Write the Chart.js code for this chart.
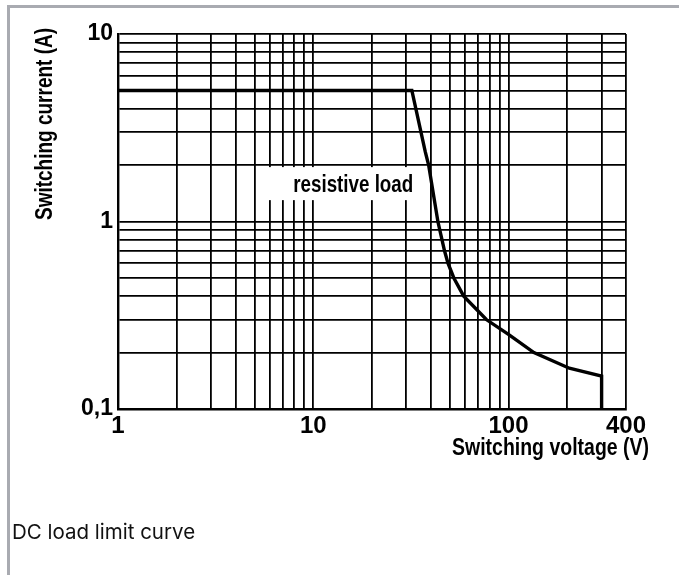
<!DOCTYPE html>
<html>
<head>
<meta charset="utf-8">
<script src="https://cdn.jsdelivr.net/npm/chart.js@4/dist/chart.umd.min.js"></script>
<style>
    html, body { margin: 0; padding: 0; background: #fff; }
    #page { position: relative; width: 679px; height: 575px; overflow: hidden; }
    #frame {
        position: absolute; left: 7px; top: 5px; width: 680px; height: 600px;
        border-top: 3px solid #a9abb1; border-left: 3px solid #a9abb1;
    }
    #wrap { position: absolute; left: 0; top: 0; width: 679px; height: 575px; }
    #caption {
        position: absolute; left: 12px; top: 519px;
        font-family: Inter, Roboto, sans-serif; font-size: 20.5px; color: #111;
    }
</style>
</head>
<body>
<div id="page">
    <div id="frame"></div>
    <div id="wrap"><canvas id="limitChart"></canvas></div>
    <div id="caption">DC load limit curve</div>
</div>
<script>
// ===== Data =====
const voltage = [1, 32, 37.5, 39, 43.5, 47, 49, 52.5, 59, 77, 100, 135, 205, 300, 300];
const current = [5, 5, 2.35, 2, 1, 0.7, 0.6, 0.5, 0.4, 0.3, 0.25, 0.2, 0.165, 0.15, 0.1];

// ===== Grid / ticks =====
const xGrid = [1, 2, 3, 4, 5, 6, 7, 8, 9, 10, 20, 30, 40, 50, 60, 70, 80, 90, 100, 200, 300, 400];
const yGrid = [0.1, 0.2, 0.3, 0.4, 0.5, 0.6, 0.7, 0.8, 0.9, 1, 2, 3, 4, 5, 6, 7, 8, 9, 10];
const xLabels = { 1: "1", 10: "10", 100: "100", 400: "400" };
const yLabels = { 0.1: "0,1", 1: "1", 10: "10" };

const xTitle = "Switching voltage (V)";
const yTitle = "Switching current (A)";
const loadLabel = "resistive load";

const FONT = "'Liberation Sans', Arial, sans-serif";

// draw text squeezed to a given width (the datasheet uses a narrow face)
function narrowText(ctx, text, x, y, width) {
    const w = ctx.measureText(text).width;
    ctx.save();
    ctx.translate(x, y);
    ctx.scale(width / w, 1);
    ctx.fillText(text, 0, 0);
    ctx.restore();
}

const textPlugin = {
    id: "sheetText",
    beforeDatasetsDraw(chart) {
        const ctx = chart.ctx;
        const x = chart.scales.x, y = chart.scales.y;
        ctx.save();
        // white patch behind "resistive load"
        const bx0 = x.getPixelForValue(5.6), bx1 = x.getPixelForValue(35);
        const by0 = y.getPixelForValue(1.95), by1 = y.getPixelForValue(1.3);
        ctx.fillStyle = "#fff";
        ctx.fillRect(bx0, by0, bx1 - bx0, by1 - by0);
        ctx.fillStyle = "#000";
        ctx.font = "bold 23px " + FONT;
        ctx.textAlign = "left";
        ctx.textBaseline = "middle";
        narrowText(ctx, loadLabel, x.getPixelForValue(7.9), y.getPixelForValue(1.55), 120);
        ctx.restore();
    },
    afterDraw(chart) {
        const ctx = chart.ctx;
        const a = chart.chartArea;
        ctx.save();
        ctx.fillStyle = "#000";
        ctx.font = "bold 23px " + FONT;
        ctx.textBaseline = "middle";
        ctx.textAlign = "left";
        narrowText(ctx, xTitle, a.right - 174, a.bottom + 40, 197);
        ctx.translate(a.left - 72, a.top - 6);
        ctx.rotate(-Math.PI / 2);
        ctx.textAlign = "left";
        narrowText(ctx, yTitle, -192, 0, 192);
        ctx.restore();
    }
};

new Chart(document.getElementById("limitChart"), {
    type: "line",
    data: {
        datasets: [{
            data: voltage.map((v, i) => ({ x: v, y: current[i] })),
            borderColor: "#000",
            borderWidth: 3.4,
            pointRadius: 0,
            tension: 0,
            fill: false
        }]
    },
    options: {
        responsive: true,
        maintainAspectRatio: false,
        animation: false,
        layout: { padding: { left: 0, top: 34, right: 53, bottom: 0 } },
        plugins: { legend: { display: false }, tooltip: { enabled: false } },
        scales: {
            x: {
                type: "logarithmic",
                min: 1,
                max: 400,
                afterBuildTicks: (s) => { s.ticks = xGrid.map(v => ({ value: v })); },
                afterFit: (s) => { s.height = 166; },
                grid: { color: "#000", lineWidth: 1.8, drawTicks: false },
                border: { display: true, color: "#000", width: 2.4 },
                ticks: {
                    autoSkip: false,
                    maxRotation: 0,
                    padding: 3,
                    color: "#000",
                    font: { family: FONT, size: 24, weight: "bold" },
                    callback: (v) => xLabels[v] || ""
                }
            },
            y: {
                type: "logarithmic",
                min: 0.1,
                max: 10,
                afterBuildTicks: (s) => { s.ticks = yGrid.map(v => ({ value: v })); },
                afterFit: (s) => { s.width = 118; },
                grid: { color: "#000", lineWidth: 1.8, drawTicks: false },
                border: { display: true, color: "#000", width: 2.4 },
                ticks: {
                    autoSkip: false,
                    padding: 5,
                    color: "#000",
                    font: { family: FONT, size: 23, weight: "bold" },
                    callback: (v) => yLabels[v] || ""
                }
            }
        }
    },
    plugins: [textPlugin]
});
</script>
</body>
</html>
